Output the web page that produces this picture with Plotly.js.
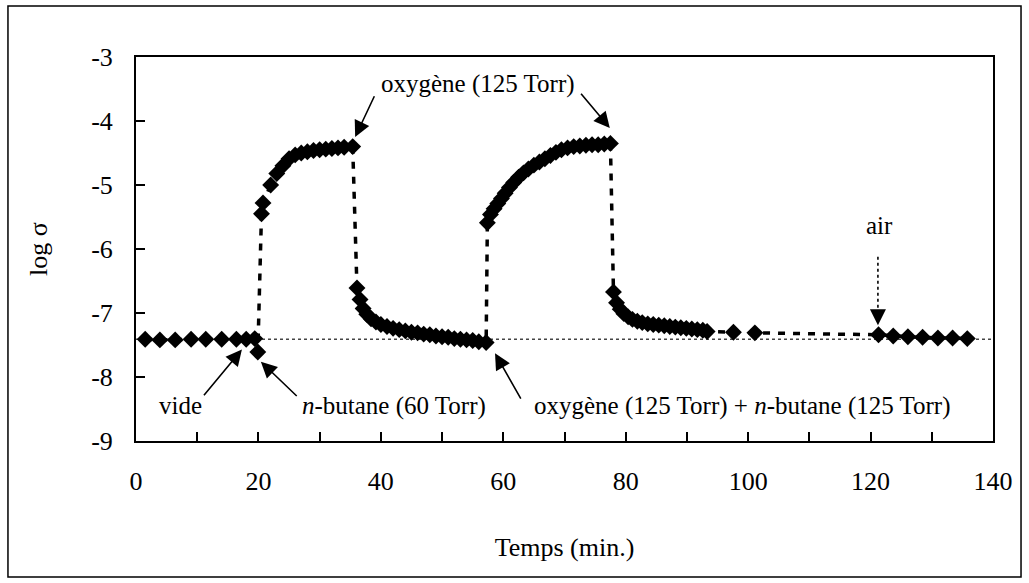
<!DOCTYPE html>
<html>
<head>
<meta charset="utf-8">
<script src="https://cdn.plot.ly/plotly-3.0.1.min.js"></script>
<style>
  html, body { margin: 0; padding: 0; background: #ffffff; }
  #chart { width: 1029px; height: 583px; }
</style>
</head>
<body>
<div id="chart"></div>
<script>
// Time (min.)
var timeMin = [
  1.5, 3.9, 6.4, 9.0, 11.4, 14.0, 16.4, 18.0, 19.4,
  19.9, 20.5, 20.75, 22.0, 23.0, 24.0, 25.0, 26.0, 27.0, 28.0, 29.0, 30.0, 31.0, 32.0, 33.0, 34.0, 35.4,
  36.1, 36.6, 37.1, 37.7, 38.4, 39.2, 40.0, 41.0, 42.0, 43.0, 44.0, 45.0, 46.0, 47.0, 48.0, 49.0, 50.0, 51.0, 52.0, 53.0, 54.0, 55.0, 56.0, 57.2,
  57.4, 57.9, 58.5, 59.1, 59.7, 60.3, 61.0, 61.7, 62.5, 63.3, 64.1, 65.0, 65.9, 66.8, 67.7, 68.6, 69.5, 70.5, 71.5, 72.5, 73.5, 74.5, 75.5, 76.5, 77.5,
  78.0, 78.5, 79.1, 79.7, 80.4, 81.1, 81.9, 82.7, 83.6, 84.5, 85.4, 86.3, 87.2, 88.1, 89.0, 89.9, 90.8, 91.7, 92.6, 93.3,
  97.6, 101.1,
  121.3, 123.7, 126.1, 128.5, 131.0, 133.4, 135.8
];
// log sigma
var logSigma = [
  -7.41, -7.42, -7.42, -7.41, -7.41, -7.41, -7.41, -7.41, -7.40,
  -7.61, -5.45, -5.28, -5.00, -4.82, -4.70, -4.59, -4.53, -4.50, -4.48, -4.46, -4.45, -4.44, -4.43, -4.42, -4.41, -4.40,
  -6.61, -6.79, -6.93, -7.02, -7.09, -7.14, -7.18, -7.21, -7.24, -7.26, -7.28, -7.30, -7.31, -7.33, -7.34, -7.36, -7.37, -7.38, -7.40, -7.41, -7.42, -7.43, -7.45, -7.46,
  -5.59, -5.46, -5.37, -5.29, -5.21, -5.13, -5.04, -4.96, -4.88, -4.81, -4.75, -4.69, -4.64, -4.59, -4.54, -4.49, -4.45, -4.42, -4.40, -4.39, -4.38, -4.37, -4.37, -4.36, -4.35,
  -6.67, -6.84, -6.94, -7.01, -7.06, -7.10, -7.13, -7.15, -7.17, -7.18, -7.19, -7.20, -7.21, -7.22, -7.23, -7.24, -7.25, -7.26, -7.27, -7.29,
  -7.30, -7.31,
  -7.34, -7.36, -7.37, -7.38, -7.39, -7.39, -7.40
];
// baseline (vacuum level)
var baselineLogSigma = -7.41;

// axis ticks
var xTickVals = [0, 10, 20, 30, 40, 50, 60, 70, 80, 90, 100, 110, 120, 130, 140];
var xTickText = ['0', '', '20', '', '40', '', '60', '', '80', '', '100', '', '120', '', '140'];
var yTickVals = [-9, -8, -7, -6, -5, -4, -3];
var yTickText = ['-9', '-8', '-7', '-6', '-5', '-4', '-3'];

// annotation labels
var labelTexts = ['vide', '<i>n</i>-butane (60 Torr)', 'oxygène (125 Torr)', 'oxygène (125 Torr) + <i>n</i>-butane (125 Torr)', 'air'];
var labelX = [7.2, 42.1, 55.9, 99.0, 121.5];
var labelY = [-8.45, -8.45, -3.42, -8.45, -5.64];
// solid arrows: tip (x,y) and tail (ax,ay) in data units
var arrowTipX = [17.3, 20.4, 35.8, 77.4, 58.65];
var arrowTipY = [-7.57, -7.76, -4.25, -4.11, -7.63];
var arrowTailX = [10.9, 26.5, 39.05, 72.5, 63.0];
var arrowTailY = [-8.31, -8.32, -3.59, -3.55, -8.36];
// dotted arrow ("air"): tip and tail
var airArrowX = 121.2;
var airArrowTipY = -7.19;
var airArrowTailY = -6.12;
var airArrowHeadStartY = -6.95;

var serif = "'Liberation Serif', 'Times New Roman', Times, serif";

var trace = {
  x: timeMin,
  y: logSigma,
  type: 'scatter',
  mode: 'lines+markers',
  line: { color: '#000000', width: 3.5, dash: '7px,8px' },
  marker: { symbol: 'diamond', size: 13, color: '#000000', line: { width: 0 } },
  showlegend: false,
  hoverinfo: 'x+y'
};

var annotations = [];
for (var i = 0; i < labelTexts.length; i++) {
  annotations.push({
    x: labelX[i], y: labelY[i], xref: 'x', yref: 'y',
    text: labelTexts[i], showarrow: false,
    font: { family: serif, size: 25, color: '#000000' },
    xanchor: 'center', yanchor: 'middle'
  });
}
for (var j = 0; j < arrowTipX.length; j++) {
  annotations.push({
    x: arrowTipX[j], y: arrowTipY[j], xref: 'x', yref: 'y',
    ax: arrowTailX[j], ay: arrowTailY[j], axref: 'x', ayref: 'y',
    text: '', showarrow: true,
    arrowhead: 2, arrowsize: 2, arrowwidth: 1.6, arrowcolor: '#000000',
    standoff: 0, startstandoff: 0
  });
}
annotations.push({
  x: airArrowX, y: airArrowTipY, xref: 'x', yref: 'y',
  ax: airArrowX, ay: airArrowHeadStartY, axref: 'x', ayref: 'y',
  text: '', showarrow: true,
  arrowhead: 2, arrowsize: 2, arrowwidth: 1.6, arrowcolor: '#000000',
  standoff: 0, startstandoff: 0
});

var layout = {
  width: 1029,
  height: 583,
  paper_bgcolor: '#ffffff',
  plot_bgcolor: '#ffffff',
  margin: { l: 136, r: 36, t: 57, b: 142, pad: 0 },
  font: { family: serif, size: 26, color: '#000000' },
  xaxis: {
    range: [0, 140],
    tickmode: 'array',
    tickvals: xTickVals,
    ticktext: xTickText,
    ticks: 'inside',
    ticklen: 9,
    tickwidth: 2,
    tickcolor: '#000000',
    ticklabelstandoff: 16,
    showline: true,
    linecolor: '#000000',
    linewidth: 2,
    mirror: true,
    showgrid: false,
    zeroline: false,
    tickfont: { family: serif, size: 26, color: '#000000' },
    title: { text: 'Temps (min.)', font: { family: serif, size: 26, color: '#000000' }, standoff: 43 },
    automargin: false
  },
  yaxis: {
    range: [-9, -3],
    tickmode: 'array',
    tickvals: yTickVals,
    ticktext: yTickText,
    ticks: 'inside',
    ticklen: 9,
    tickwidth: 2,
    tickcolor: '#000000',
    ticklabelstandoff: 16,
    showline: true,
    linecolor: '#000000',
    linewidth: 2,
    mirror: true,
    showgrid: false,
    zeroline: false,
    tickfont: { family: serif, size: 26, color: '#000000' },
    title: { text: 'log σ', font: { family: serif, size: 26, color: '#000000' }, standoff: 36 },
    automargin: false
  },
  shapes: [
    {
      type: 'line', xref: 'paper', yref: 'y',
      x0: 0, x1: 1, y0: baselineLogSigma, y1: baselineLogSigma,
      line: { color: '#444444', width: 1.5, dash: 'dot' },
      layer: 'below'
    },
    {
      type: 'line', xref: 'x', yref: 'y',
      x0: airArrowX, x1: airArrowX, y0: airArrowTailY, y1: airArrowHeadStartY,
      line: { color: '#000000', width: 1.6, dash: 'dot' },
      layer: 'above'
    },
    {
      type: 'rect', xref: 'paper', yref: 'paper',
      x0: -0.1494, x1: 1.0327, y0: -0.3542, y1: 1.1328,
      line: { color: '#000000', width: 1.5 },
      fillcolor: 'rgba(0,0,0,0)',
      layer: 'above'
    }
  ],
  annotations: annotations
};

Plotly.newPlot('chart', [trace], layout, { staticPlot: true, displayModeBar: false });
</script>
</body>
</html>
